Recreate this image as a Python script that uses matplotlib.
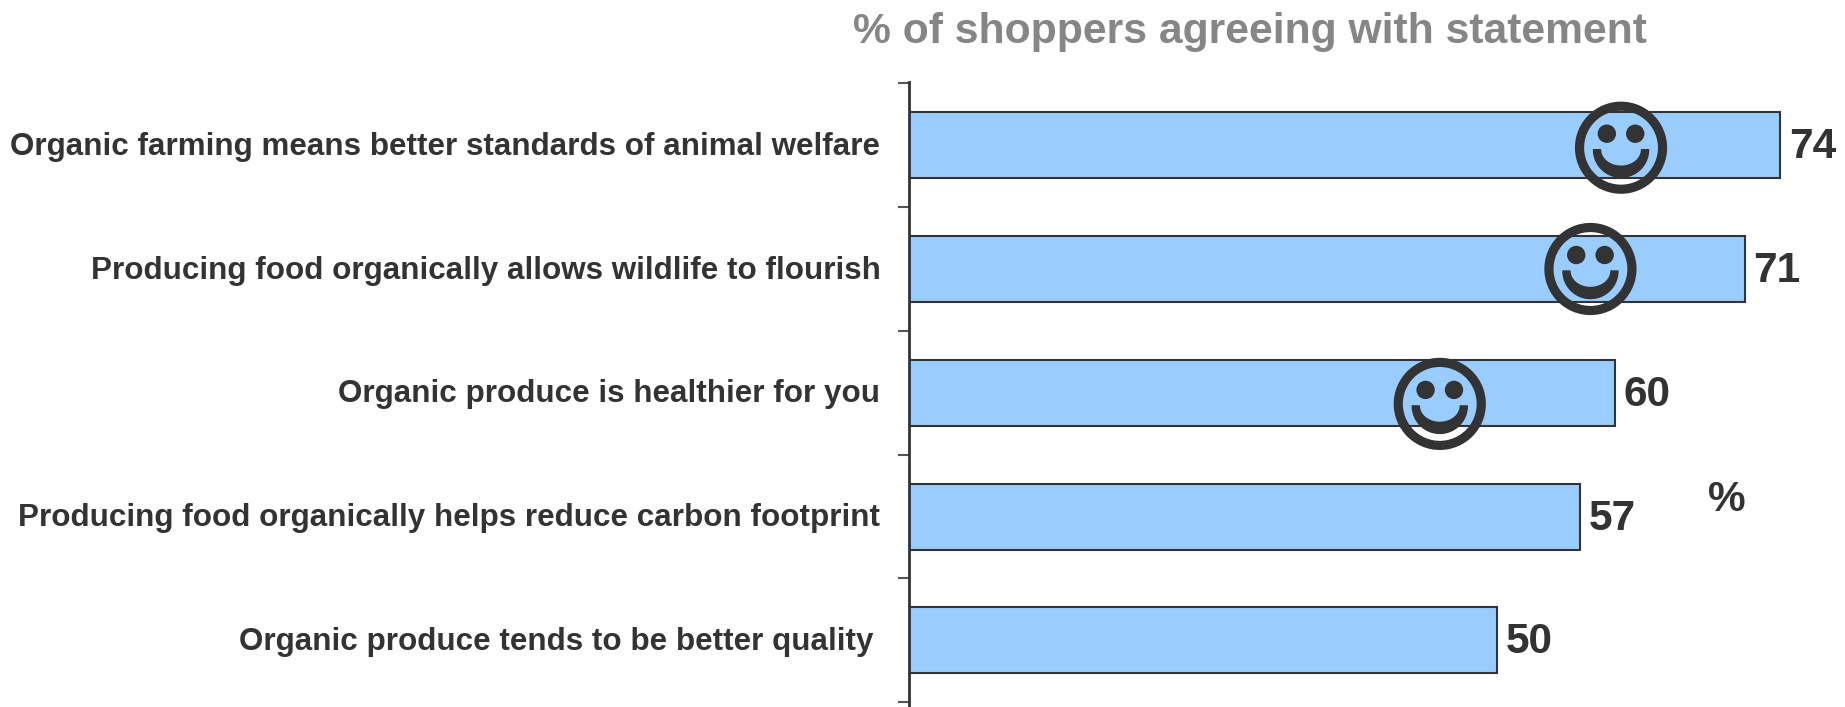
import numpy as np
import matplotlib
matplotlib.use("Agg")
import matplotlib.pyplot as plt
from matplotlib.patches import Circle, Polygon
from matplotlib.transforms import Affine2D

statements = [
    "Organic farming means better standards of animal welfare",
    "Producing food organically allows wildlife to flourish",
    "Organic produce is healthier for you",
    "Producing food organically helps reduce carbon footprint",
    "Organic produce tends to be better quality",
]
agree_pct = [74, 71, 60, 57, 50]
# Statements flagged with a smiley, and where along the bar the face sits
smiley_rows = [0, 1, 2]
smiley_pct = [60.5, 57.9, 45.1]
smiley_row_shift = [0.02, 0.0, 0.09]
title_text = "% of shoppers agreeing with statement"
unit_text = "%"

DARK = "#333333"
BAR_BLUE = "#99CCFF"
FONT = "Liberation Sans"

plt.rcParams["font.family"] = FONT
plt.rcParams["font.weight"] = "bold"

W, H = 1845, 707
fig = plt.figure(figsize=(W / 100, H / 100), dpi=100, facecolor="white")
ax = fig.add_axes([909 / W, 0, (W - 909) / W, 625 / H])

rows = np.arange(len(statements))
bars = ax.barh(rows, agree_pct, height=0.533, color=BAR_BLUE,
               edgecolor=DARK, linewidth=1.5, zorder=2)
ax.set_xlim(0, 79.53)
ax.set_ylim(4.539, -0.511)

for side in ("top", "right", "bottom"):
    ax.spines[side].set_visible(False)
ax.spines["left"].set_color(DARK)
ax.spines["left"].set_linewidth(2)
ax.set_xticks([])
ax.set_yticks(np.arange(len(statements) + 1) - 0.5)
ax.set_yticklabels([])
ax.tick_params(axis="y", length=8, width=1.5, color="#555555", direction="out")

# Statement labels; the last one sits slightly further from the axis
for row, label in zip(rows, statements):
    extra = 5 if row == len(statements) - 1 else 0
    ax.annotate(label, xy=(0, row), xycoords="data",
                xytext=(-20.6 - extra, -1.2), textcoords="offset points",
                ha="right", va="center", fontsize=22.6, color=DARK,
                annotation_clip=False)

for bar, value in zip(bars, agree_pct):
    ax.annotate(str(value), xy=(value, bar.get_y() + bar.get_height() / 2),
                xytext=(6.3, -1.5), textcoords="offset points",
                ha="left", va="center", fontsize=30.5, color=DARK,
                annotation_clip=False)

fig.text(1249.5 / W, 1 - 32 / H, title_text, ha="center", va="center",
         fontsize=30.7, color="#868686")
fig.text(1727 / W, 1 - 500 / H, unit_text, ha="center", va="center",
         fontsize=30.5, color=DARK)


def draw_smiley(axes, pct, row):
    """Outline face centred on a data position, sized in pixels."""
    cx, cy = axes.transData.transform((pct, row))
    place = Affine2D().translate(cx, cy)
    common = dict(transform=place, clip_on=False, zorder=4)
    axes.add_artist(Circle((0, 0), 41.5, fill=False, edgecolor=DARK,
                           linewidth=6.6, **common))
    for side in (-14.2, 14.2):
        axes.add_artist(Circle((side, 14), 9.2, facecolor=DARK,
                               edgecolor="none", **common))
    # Crescent mouth: deep outer curve, shallower inner curve
    t = np.linspace(np.pi, 2 * np.pi, 60)
    outer = np.column_stack([27.5 * np.cos(t), -2 + 27.5 * np.sin(t)])
    inner = np.column_stack([20.5 * np.cos(t), -2 + 16.5 * np.sin(t)])
    axes.add_artist(Polygon(np.vstack([outer, inner[::-1]]), closed=True,
                            facecolor=DARK, edgecolor=DARK, linewidth=1.0,
                            joinstyle="round", **common))


for row, pct, shift in zip(smiley_rows, smiley_pct, smiley_row_shift):
    draw_smiley(ax, pct, row + shift)

fig.savefig("out.png", dpi=100, facecolor="white")
